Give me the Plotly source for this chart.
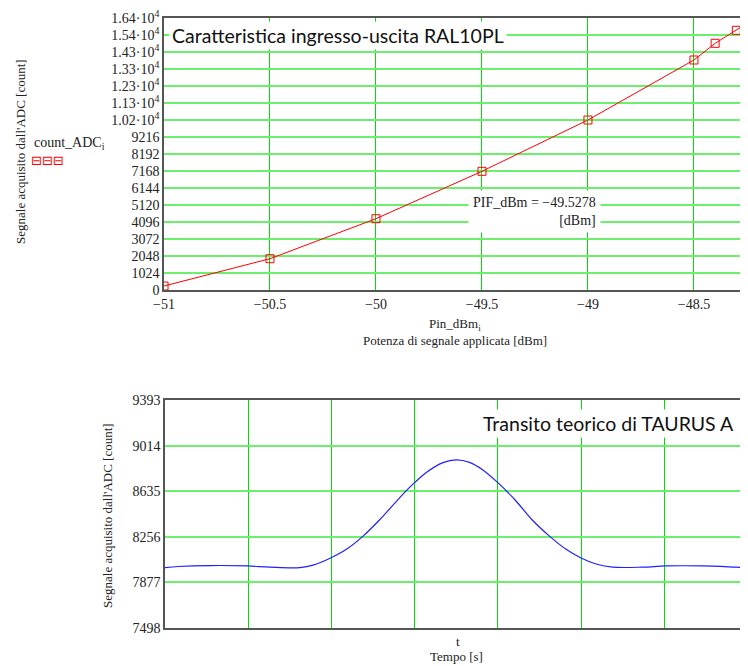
import plotly.graph_objects as go

# ---------------- data ----------------
pin_dbm = [-51, -50.5, -50, -49.5, -49, -48.5, -48.4, -48.3, -48.2]
count_adc = [241, 1885, 4295, 7150, 10240, 13854, 14860, 15643, 16460]

top_y_ticks = [0, 1024, 2048, 3072, 4096, 5120, 6144, 7168, 8192, 9216,
               10240, 11264, 12288, 13312, 14336, 15360, 16384]
top_y_labels = ["0", "1024", "2048", "3072", "4096", "5120", "6144", "7168", "8192", "9216",
                "1.02·10<sup>4</sup>", "1.13·10<sup>4</sup>", "1.23·10<sup>4</sup>",
                "1.33·10<sup>4</sup>", "1.43·10<sup>4</sup>", "1.54·10<sup>4</sup>",
                "1.64·10<sup>4</sup>"]
top_x_ticks = [-51, -50.5, -50, -49.5, -49, -48.5]
top_x_labels = ["−51", "−50.5", "−50", "−49.5", "−49", "−48.5"]

t_s = [0, 0.16, 0.54, 0.99, 1.26, 1.62, 1.78, 1.99, 2.18, 2.38, 2.58, 2.74, 2.90,
       3.00, 3.14, 3.34, 3.50, 3.66, 3.82, 4.00, 4.21, 4.41, 4.62, 4.82, 5.00,
       5.18, 5.38, 5.74, 6.02, 6.46, 6.86, 7.0]
transit = [8000, 8009, 8017, 8014, 8004, 8000, 8020, 8080, 8152, 8262, 8398, 8520, 8640,
           8706, 8790, 8872, 8896, 8875, 8812, 8706, 8560, 8398, 8262, 8152, 8080,
           8030, 8004, 8004, 8014, 8014, 8004, 8000]
bot_y_ticks = [7498, 7877, 8256, 8635, 9014, 9393]

# page offset (browser body margin) compensation
OX, OY = 8, 8
W, H = 740, 658
def px(x):
    return (x - OX) / W
def py(y):
    return 1 - (y - OY) / H

SERIF = "Liberation Serif"
SANS = "Lato"

fig = go.Figure()
fig.add_trace(go.Scatter(
    x=pin_dbm, y=count_adc, mode="lines+markers",
    line=dict(color="#ff0000", width=1),
    marker=dict(symbol="square-open", size=8, color="#ff0000", line=dict(width=1)),
    xaxis="x", yaxis="y", showlegend=False))
fig.add_trace(go.Scatter(
    x=t_s, y=transit, mode="lines", line=dict(color="#2020ff", width=1.2, shape="spline", smoothing=1.0),
    xaxis="x2", yaxis="y2", showlegend=False))

grid_v = "#00e000"
grid_h = "#6cf06c"
axis_col = "#555555"

fig.update_layout(
    width=W, height=H, margin=dict(l=0, r=0, t=0, b=0, autoexpand=False),
    paper_bgcolor="white", plot_bgcolor="white",
    font=dict(family=SERIF, size=13, color="#222222"),
    xaxis=dict(domain=[px(164), 1.0], range=[-51, -48.245], tickmode="array",
               tickvals=top_x_ticks, ticktext=top_x_labels, showgrid=True,
               gridcolor=grid_v, gridwidth=1.3, zeroline=False, showline=True,
               linecolor=axis_col, linewidth=1.5, mirror=True, ticks="",
               anchor="y", automargin=False, tickfont=dict(family=SERIF, size=14)),
    yaxis=dict(domain=[py(290), py(18)], range=[0, 16384], tickmode="array",
               tickvals=top_y_ticks, ticktext=top_y_labels, showgrid=True,
               gridcolor=grid_h, gridwidth=1.5, zeroline=False, showline=True,
               linecolor=axis_col, linewidth=1.5, ticks="", anchor="x",
               automargin=False, tickfont=dict(family=SERIF, size=14)),
    xaxis2=dict(domain=[px(165), px(747.5)], range=[0, 7], tickmode="linear", tick0=0,
                dtick=1, showticklabels=False, showgrid=True, gridcolor=grid_v,
                gridwidth=1.3, zeroline=False, showline=True, linecolor=axis_col,
                linewidth=1.5, mirror=True, ticks="", anchor="y2", automargin=False),
    yaxis2=dict(domain=[py(628), py(400)], range=[7498, 9393], tickmode="array",
                tickvals=bot_y_ticks, showgrid=True, gridcolor=grid_h, gridwidth=1.5,
                zeroline=False, showline=True, linecolor=axis_col, linewidth=1.5,
                mirror=True, ticks="", anchor="x2", automargin=False,
                tickfont=dict(family=SERIF, size=14)),
)

ann = []
# top chart title box
ann.append(dict(x=px(169), y=py(35), xref="paper", yref="paper", xanchor="left",
                yanchor="middle", showarrow=False,
                text="Caratteristica ingresso-uscita RAL10PL",
                font=dict(family=SANS, size=19.5, color="#111111"),
                bgcolor="white", borderpad=2))
# PIF annotation
ann.append(dict(x=px(601), y=py(211), xref="paper", yref="paper", xanchor="right",
                yanchor="middle", showarrow=False, align="right",
                text="PIF_dBm = −49.5278<br>[dBm]",
                font=dict(family=SERIF, size=14, color="#222222"),
                bgcolor="white", borderpad=4))
# y titles
ann.append(dict(x=px(20), y=py(152), xref="paper", yref="paper", xanchor="center",
                yanchor="middle", showarrow=False, textangle=-90,
                text="Segnale acquisito dall'ADC [count]",
                font=dict(family=SERIF, size=13)))
ann.append(dict(x=px(107), y=py(516), xref="paper", yref="paper", xanchor="center",
                yanchor="middle", showarrow=False, textangle=-90,
                text="Segnale acquisito dall'ADC [count]",
                font=dict(family=SERIF, size=13)))
# legend
ann.append(dict(x=px(32), y=py(143), xref="paper", yref="paper", xanchor="left",
                yanchor="middle", showarrow=False, text="count_ADC<sub>i</sub>",
                font=dict(family=SERIF, size=14)))
ann.append(dict(x=px(29), y=py(160), xref="paper", yref="paper", xanchor="left",
                yanchor="middle", showarrow=False, text="⊟⊟⊟",
                font=dict(family="DejaVu Sans", size=13, color="#ff0000")))
# top x titles
ann.append(dict(x=px(455), y=py(324), xref="paper", yref="paper", xanchor="center",
                yanchor="middle", showarrow=False, text="Pin_dBm<sub>i</sub>",
                font=dict(family=SERIF, size=13)))
ann.append(dict(x=px(455), y=py(340), xref="paper", yref="paper", xanchor="center",
                yanchor="middle", showarrow=False, text="Potenza di segnale applicata [dBm]",
                font=dict(family=SERIF, size=13)))
# bottom title
ann.append(dict(x=px(737), y=py(423), xref="paper", yref="paper", xanchor="right",
                yanchor="middle", showarrow=False, text="Transito teorico di TAURUS A",
                font=dict(family=SANS, size=19.5, color="#111111"),
                bgcolor="white", borderpad=2))
# bottom x titles
ann.append(dict(x=px(458), y=py(641), xref="paper", yref="paper", xanchor="center",
                yanchor="middle", showarrow=False, text="t",
                font=dict(family=SERIF, size=13)))
ann.append(dict(x=px(456), y=py(656), xref="paper", yref="paper", xanchor="center",
                yanchor="middle", showarrow=False, text="Tempo [s]",
                font=dict(family=SERIF, size=13)))
fig.update_layout(annotations=ann)

fig.write_html("out.html")
